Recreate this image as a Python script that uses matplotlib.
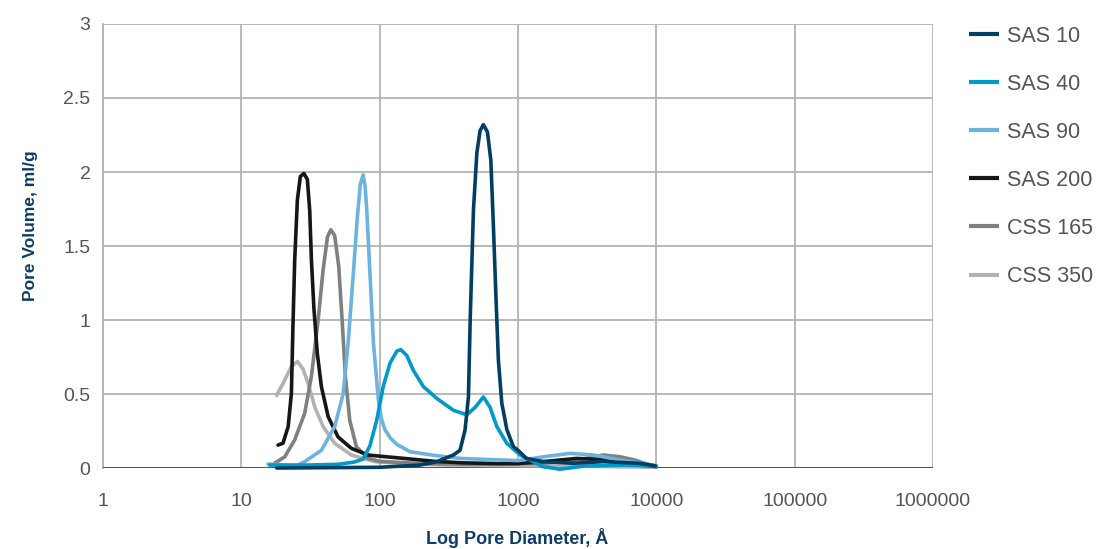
import numpy as np
import matplotlib.pyplot as plt
from matplotlib.ticker import FixedLocator, FixedFormatter

# Pore size distribution curves
sas10_d = [18, 100, 196, 259, 341, 381, 414, 438, 451, 476, 504, 532, 562, 601, 636, 664, 691, 721, 763, 830,
           926, 1000, 1150, 1528, 2500, 4140, 7500, 9800]
sas10_v = [0.0, 0.005, 0.02, 0.043, 0.088, 0.12, 0.257, 0.48, 1.0, 1.74, 2.13, 2.28, 2.32, 2.27, 2.08, 1.63, 1.18,
           0.73, 0.44, 0.26, 0.144, 0.12, 0.065, 0.043, 0.032, 0.043, 0.032, 0.015]

sas40_d = [16, 30, 50, 65, 76, 85, 95, 106, 119, 133, 142, 157, 175, 207, 259, 341, 427, 490, 562, 628, 703, 830,
           1036, 1223, 1500, 2000, 3000, 6000, 10000]
sas40_v = [0.02, 0.02, 0.025, 0.04, 0.06, 0.15, 0.32, 0.55, 0.71, 0.79, 0.80, 0.76, 0.66, 0.55, 0.47, 0.39, 0.36,
           0.41, 0.48, 0.41, 0.28, 0.167, 0.088, 0.054, 0.01, -0.008, 0.013, 0.02, 0.013]

sas90_d = [15.6, 21, 25, 28.7, 37.9, 47.3, 54.4, 59.1, 64.2, 69, 72.5, 75.9, 78.5, 80.7, 85.3, 90.2, 97.9, 103,
           109, 120, 133, 166, 250, 380, 1000, 1528, 2380, 3510, 5470, 9530, 10000]
sas90_v = [0.027, 0.02, 0.015, 0.043, 0.12, 0.28, 0.5, 0.84, 1.29, 1.70, 1.92, 1.98, 1.90, 1.74, 1.29, 0.84, 0.46,
           0.33, 0.26, 0.2, 0.16, 0.11, 0.085, 0.065, 0.05, 0.076, 0.099, 0.088, 0.054, 0.02, 0.015]

sas200_d = [18.4, 20, 21.8, 23, 23.6, 24.3, 25.4, 26.7, 28.3, 30, 31.2, 32.1, 33.5, 35.4, 37.9, 42.4, 50, 62.4,
            82.4, 100, 150, 250, 400, 700, 1000, 1500, 2660, 4500, 8000, 10000]
sas200_v = [0.155, 0.168, 0.28, 0.505, 0.955, 1.405, 1.81, 1.97, 1.99, 1.95, 1.74, 1.405, 1.07, 0.775, 0.55, 0.347,
            0.21, 0.133, 0.088, 0.08, 0.065, 0.045, 0.035, 0.03, 0.03, 0.043, 0.065, 0.054, 0.02, 0.01]

css165_d = [17.4, 20.6, 24.3, 28.7, 32.1, 35.9, 39, 41.9, 44.3, 47.3, 50.6, 53.5, 56.5, 60.8, 67.9, 82.4, 100, 200,
            500, 1000, 1500, 2660, 4140, 5470, 7000, 9000, 10000]
css165_v = [0.032, 0.076, 0.19, 0.37, 0.62, 1.0, 1.34, 1.56, 1.61, 1.57, 1.36, 1.0, 0.62, 0.32, 0.144, 0.065,
            0.045, 0.03, 0.025, 0.03, 0.032, 0.054, 0.088, 0.076, 0.054, 0.02, 0.01]

css350_d = [18, 20.6, 23, 25.4, 27.9, 30.4, 34, 39, 47.3, 62.4, 92.2, 150, 300, 1000, 3000, 10000]
css350_v = [0.49, 0.595, 0.685, 0.72, 0.67, 0.57, 0.41, 0.28, 0.167, 0.088, 0.043, 0.03, 0.02, 0.015, 0.012, 0.005]

series = [
    ('SAS 10', sas10_d, sas10_v, '#003e62'),
    ('SAS 40', sas40_d, sas40_v, '#0099cc'),
    ('SAS 90', sas90_d, sas90_v, '#6db3df'),
    ('SAS 200', sas200_d, sas200_v, '#161616'),
    ('CSS 165', css165_d, css165_v, '#808080'),
    ('CSS 350', css350_d, css350_v, '#b2b2b2'),
]

x_ticks = [1, 10, 100, 1000, 10000, 100000, 1000000]
x_labels = ['1', '10', '100', '1000', '10000', '100000', '1000000']
y_ticks = [0, 0.5, 1, 1.5, 2, 2.5, 3]
y_labels = ['0', '0.5', '1', '1.5', '2', '2.5', '3']

plt.rcParams['font.family'] = ['Liberation Sans', 'DejaVu Sans']

fig = plt.figure(figsize=(11.03, 5.49), dpi=100)
ax = fig.add_axes([0.0934, 0.1475, 0.7525, 0.8088])

n = len(series)
for i, (name, d, v, c) in enumerate(series):
    ax.plot(d, v, color=c, lw=2.6, label=name, zorder=10 + n - i, clip_on=False,
            solid_joinstyle='round', solid_capstyle='round')

ax.axhline(0, color='#555555', lw=2.2, zorder=5)

ax.set_xscale('log')
ax.set_xlim(1, 1000000)
ax.set_ylim(0, 3)
ax.xaxis.set_major_locator(FixedLocator(x_ticks))
ax.xaxis.set_major_formatter(FixedFormatter(x_labels))
ax.xaxis.set_minor_locator(FixedLocator([]))
ax.set_yticks(y_ticks)
ax.set_yticklabels(y_labels)

ax.grid(True, color='#b3b3b3', lw=1.3)
ax.set_axisbelow(True)
for s in ['top', 'right', 'bottom']:
    ax.spines[s].set_visible(False)
ax.spines['left'].set_color('#b3b3b3')
ax.spines['left'].set_linewidth(1.3)
ax.tick_params(length=0, colors='#555555', labelsize=14)
ax.tick_params(axis='x', pad=18)
ax.tick_params(axis='y', pad=9)

fig.text(517 / 1103, 11 / 549, 'Log Pore Diameter, Å', ha='center', va='center',
         fontsize=13, fontweight='bold', color='#0d3d66')
fig.text(31 / 1103, 323 / 549, 'Pore Volume, ml/g', ha='center', va='center', rotation=90,
         fontsize=12.5, fontweight='bold', color='#0d3d66')

leg = fig.legend(loc='upper left', bbox_to_anchor=(0.861, 0.988), frameon=False,
                 fontsize=15.5, handlelength=1.4, handletextpad=0.37, labelspacing=1.255)
for t in leg.get_texts():
    t.set_color('#555555')
for h in leg.get_lines():
    h.set_linewidth(3)
    h.set_solid_capstyle('butt')

fig.savefig('out.png', dpi=100)
